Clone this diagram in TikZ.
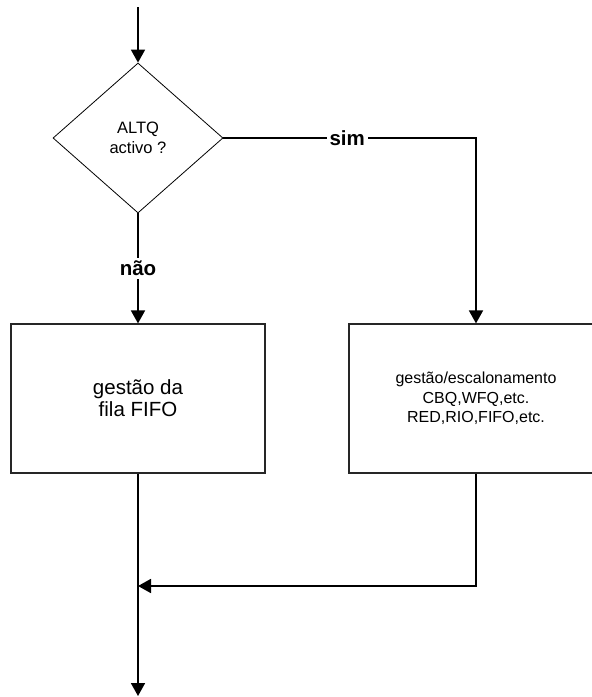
\documentclass[tikz,border=0pt]{standalone}
\usepackage{fontspec}
\setmainfont{Liberation Sans}
\usetikzlibrary{shapes.geometric,arrows.meta}
\begin{document}
\begin{tikzpicture}[x=1pt,y=-1pt,
  flow/.style={line width=1.8pt,-{Triangle[length=13pt,width=14pt]}},
  box/.style={draw=black!85,line width=1.2pt,rectangle,minimum width=254pt,minimum height=149pt,inner sep=0pt,align=center},
  dec/.style={draw,diamond,line width=0.8pt,minimum width=170pt,minimum height=150pt,inner sep=0pt,align=center,font=\fontsize{16.5}{20}\selectfont},
  lab/.style={fill=white,font=\bfseries\fontsize{20.5}{22}\selectfont,inner sep=3pt}]
\useasboundingbox (0,0) rectangle (592,697);
\clip (0,0) rectangle (592,697);
\coordinate (top) at (138,7);
\coordinate (bot) at (138,696);
\coordinate (j) at (138,586);
\node[dec] (d) at (138,138) {ALTQ\\activo ?};
\node[box,font=\fontsize{20.5}{22}\selectfont] (l) at (138,398.5) {gestão da\\fila FIFO};
\node[box,font=\fontsize{16}{19.5}\selectfont] (r) at (476,398.5) {gestão/escalonamento\\CBQ,WFQ,etc.\\RED,RIO,FIFO,etc.};
\draw[flow] (top) -- (d.north);
\draw[flow] (d.east) -- node[lab,pos=0.49] (s) {sim} (d.east -| r.north) -- (r.north);
\draw[flow] (d.south) -- node[lab] (n) {não} (l.north);
\draw[flow] (l.south) -- (bot);
\draw[flow] (r.south) |- (j);
\end{tikzpicture}
\end{document}
